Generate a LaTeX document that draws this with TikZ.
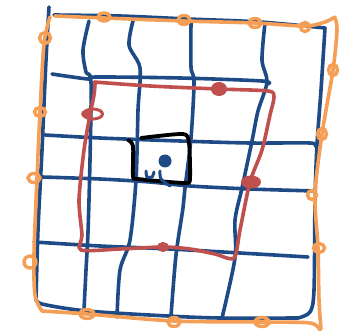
\documentclass[tikz,border=0pt]{standalone}
\usetikzlibrary{calc}
\definecolor{gblue}{RGB}{30,74,134}
\definecolor{gorange}{RGB}{245,158,85}
\definecolor{gred}{RGB}{192,80,77}
\tikzset{
  bl/.style={draw=gblue,line width=3.6pt,line cap=round,line join=round},
  orl/.style={draw=gorange,line width=3.6pt,line cap=round,line join=round},
  rdl/.style={draw=gred,line width=3.6pt,line cap=round,line join=round},
  bkl/.style={draw=black,line width=3.8pt,line cap=round,line join=round},
  oloop/.style={draw=gorange,line width=3.4pt},
  rblob/.style={draw=gred,fill=gred,line width=2pt},
}
\begin{document}
\begin{tikzpicture}[x=1pt,y=-1pt]
\useasboundingbox (0,0) rectangle (345,331);
% ---- blue grid ----
% frame
\draw[bl] plot[smooth,tension=0.5] coordinates {(49,7) (46,60) (42,150) (38,230) (36,300)};
\draw[bl] plot[smooth,tension=0.5] coordinates {(54,15) (120,16) (188,19) (260,22) (325,28)};
\draw[bl] plot[smooth,tension=0.5] coordinates {(325,28) (321,90) (317,145) (315,200) (314,290) (310,312) (298,318)};
\draw[bl] plot[smooth,tension=0.5] coordinates {(298,318) (220,318) (168,316) (87,311) (42,304) (36,298)};
% verticals
\draw[bl] plot[smooth,tension=0.5] coordinates {(89,21) (83,50) (86,72) (91,82) (90,160) (88,232) (86,270) (84,310)};
\draw[bl] plot[smooth,tension=0.5] coordinates {(134,17) (129,45) (140,68) (138,110) (136,180) (130,240) (120,270) (117,317)};
\draw[bl] plot[smooth,tension=0.5] coordinates {(191,22) (191,67) (194,82) (191,138) (185,188) (183,208) (176,255) (171,316)};
\draw[bl] plot[smooth,tension=0.5] coordinates {(265,23) (262,60) (267,82) (258,111) (252,141) (242,188) (235,220) (235,258) (222,318)};
% horizontals
\draw[bl] plot[smooth,tension=0.5] coordinates {(52,74) (88,79) (96,77) (180,78) (262,81) (268,84)};
\draw[bl] plot[smooth,tension=0.5] coordinates {(45,135) (100,138) (180,141) (250,143) (310,143) (315,146)};
\draw[bl] plot[smooth,tension=0.5] coordinates {(42,177) (100,179) (150,182) (190,186) (250,189) (315,191)};
\draw[bl] plot[smooth,tension=0.5] coordinates {(34,242) (100,246) (170,249) (240,253) (308,257)};
% ---- black square ----
\draw[bkl] plot[smooth,tension=0.4] coordinates {(128,140) (133,146) (133,176) (138,179) (185,183) (190,178) (189,143) (183,134) (141,138)};
% blue dot and squiggle
\fill[gblue] (165,161) circle (6.5);
\draw[bl,line width=3pt] plot[smooth,tension=0.5] coordinates {(146,171) (147,177) (152,177) (154,172)};
\draw[bl,line width=3pt] plot[smooth,tension=0.5] coordinates {(160,171) (161,179) (170,186)};
% ---- red square ----
\draw[rdl] plot[smooth,tension=0.45] coordinates {(94,82) (150,86) (218,89) (268,91) (274,97) (270,115) (262,150) (250,182) (240,230) (234,258) (215,254) (190,249) (163,247) (120,249) (81,250) (82,235) (79,200) (84,150) (90,115) (94,95) (95,84)};
\draw[rblob] (219,89) ellipse (7 and 6);
\draw[rblob] (251,182) ellipse (9 and 5.5);
\draw[rblob] (163,247) ellipse (5 and 4);
\draw[gred,line width=3pt] (93,114) ellipse (9.5 and 5);
\fill[gred] (86,114) ellipse (5 and 4);
% ---- orange outer square ----
\draw[orl] plot[smooth,tension=0.5] coordinates {(50,17) (44,44) (40,112) (37,178) (34,255) (35,295) (42,311)};
\draw[orl] plot[smooth,tension=0.5] coordinates {(42,311) (87,314) (174,321) (262,322) (310,323) (320,330)};
\draw[orl] plot[smooth,tension=0.5] coordinates {(321,329) (319,300) (318,248) (315,195) (322,134) (333,70) (337,30) (335,18)};
\draw[orl] plot[smooth,tension=0.5] coordinates {(335,17) (325,22) (305,26) (255,23) (184,21) (104,18) (55,16)};
% loops
\foreach \p/\a/\b in {(45,38)/5.5/5.5,(104,17)/6/4,(184,20)/6/4.5,(255,23)/6/4.5,(305,27)/4.5/4.5,(333,70)/4.5/5.5,(322,134)/4.5/5.5,(312,195)/4.5/4.5,(319,248)/5.5/4.5,(262,322)/7/4.5,(174,322)/6/4.5,(87,314)/7/4.5,(30,262)/6/6,(34,178)/6/4.5,(40,112)/5.5/4.5}
  \draw[oloop] \p ellipse (\a pt and \b pt);
\end{tikzpicture}
\end{document}
